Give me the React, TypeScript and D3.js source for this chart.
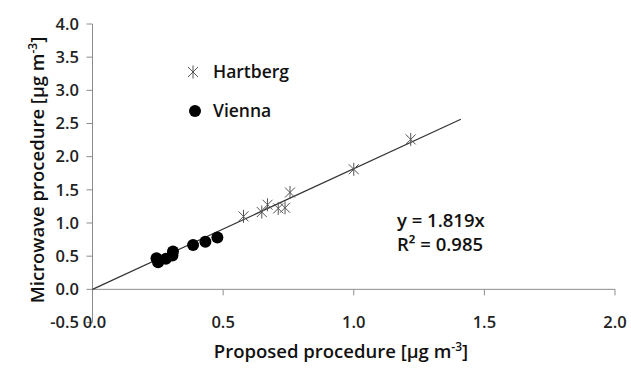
import React, { useEffect, useRef } from 'react';
import * as d3 from 'd3';

// data
const hartbergX = [0.578, 0.648, 0.67, 0.711, 0.737, 0.756, 1.0, 1.218];
const hartbergY = [1.10, 1.165, 1.275, 1.22, 1.23, 1.46, 1.81, 2.26];
const viennaX = [0.245, 0.251, 0.281, 0.306, 0.308, 0.385, 0.432, 0.478];
const viennaY = [0.47, 0.41, 0.46, 0.51, 0.57, 0.67, 0.716, 0.78];
const slope = 1.819;
const rSquared = 0.985;
const fitEnd = 1.41;
const xTicks = [0.0, 0.5, 1.0, 1.5, 2.0];
const yTicks = [-0.5, 0.0, 0.5, 1.0, 1.5, 2.0, 2.5, 3.0, 3.5, 4.0];

const FONT = "'Open Sans', 'Noto Sans', sans-serif";
const starPath = 'M-5,-5L5,5M-5,5L5,-5M0,-6.5L0,6.5';

function App() {
    const ref = useRef<SVGSVGElement>(null);

    useEffect(() => {
        const svg = d3.select(ref.current);
        svg.selectAll('*').remove();

        const x = d3.scaleLinear().domain([0, 2]).range([92.5, 615]);
        const y = d3.scaleLinear().domain([-0.5, 4]).range([322.5, 24]);

        // y axis
        svg.append('line')
            .attr('x1', x(0)).attr('x2', x(0))
            .attr('y1', y(4)).attr('y2', y(-0.5))
            .attr('stroke', '#8c8c8c');
        yTicks.forEach((t) => {
            svg.append('line')
                .attr('x1', x(0) - 6).attr('x2', x(0))
                .attr('y1', y(t)).attr('y2', y(t))
                .attr('stroke', '#8c8c8c');
            svg.append('text')
                .attr('x', 79).attr('y', y(t))
                .attr('dy', '0.35em')
                .attr('text-anchor', 'end')
                .attr('font-size', 16.5).attr('font-weight', 600)
                .attr('font-family', FONT).attr('fill', '#222')
                .text(t.toFixed(1));
        });

        // x axis at y = 0
        svg.append('line')
            .attr('x1', x(0)).attr('x2', x(2))
            .attr('y1', y(0)).attr('y2', y(0))
            .attr('stroke', '#8c8c8c');
        xTicks.forEach((t) => {
            svg.append('line')
                .attr('x1', x(t)).attr('x2', x(t))
                .attr('y1', y(0)).attr('y2', y(0) + 6)
                .attr('stroke', '#8c8c8c');
            svg.append('text')
                .attr('x', x(t) + (t === 0 ? 2 : 0)).attr('y', y(-0.5))
                .attr('dy', '0.35em')
                .attr('text-anchor', 'middle')
                .attr('font-size', 16.5).attr('font-weight', 600)
                .attr('font-family', FONT).attr('fill', '#222')
                .text(t.toFixed(1));
        });

        // trend line
        svg.append('line')
            .attr('x1', x(0)).attr('y1', y(0))
            .attr('x2', x(fitEnd)).attr('y2', y(slope * fitEnd))
            .attr('stroke', '#333').attr('stroke-width', 1.2);

        // Vienna
        svg.selectAll('.vienna')
            .data(viennaX.map((v, i) => [v, viennaY[i]]))
            .enter().append('circle')
            .attr('class', 'vienna')
            .attr('cx', (d) => x(d[0]))
            .attr('cy', (d) => y(d[1]))
            .attr('r', 6)
            .attr('fill', '#000');

        // Hartberg
        svg.selectAll('.hartberg')
            .data(hartbergX.map((v, i) => [v, hartbergY[i]]))
            .enter().append('path')
            .attr('class', 'hartberg')
            .attr('d', starPath)
            .attr('transform', (d) => 'translate(' + x(d[0]) + ',' + y(d[1]) + ')')
            .attr('fill', 'none')
            .attr('stroke', '#555')
            .attr('stroke-width', 1);

        // legend
        svg.append('path')
            .attr('d', starPath)
            .attr('transform', 'translate(193,72)')
            .attr('fill', 'none').attr('stroke', '#555');
        svg.append('circle')
            .attr('cx', 195).attr('cy', 111).attr('r', 6).attr('fill', '#000');
        [['Hartberg', 72], ['Vienna', 111]].forEach(([name, ly]) => {
            svg.append('text')
                .attr('x', 213).attr('y', ly as number)
                .attr('dy', '0.35em')
                .attr('font-size', 17.5).attr('font-weight', 600)
                .attr('font-family', FONT).attr('fill', '#111')
                .text(name as string);
        });

        // equation
        const eq = svg.append('g')
            .attr('font-size', 18.5).attr('font-weight', 600)
            .attr('font-family', FONT).attr('fill', '#111');
        eq.append('text').attr('x', 397).attr('y', 221).attr('dy', '0.35em')
            .text('y = ' + slope + 'x');
        eq.append('text').attr('x', 397).attr('y', 245).attr('dy', '0.35em')
            .text('R² = ' + rSquared);

        // axis titles
        const xt = svg.append('text')
            .attr('x', 341).attr('y', 358)
            .attr('text-anchor', 'middle')
            .attr('font-size', 18.5).attr('font-weight', 600)
            .attr('font-family', FONT).attr('fill', '#111');
        xt.append('tspan').text('Proposed procedure [µg m');
        xt.append('tspan').attr('font-size', 12).attr('dy', -7).text('-3');
        xt.append('tspan').attr('dy', 7).text(']');

        const yt = svg.append('text')
            .attr('transform', 'translate(44,170) rotate(-90)')
            .attr('text-anchor', 'middle')
            .attr('font-size', 18.5).attr('font-weight', 600)
            .attr('font-family', FONT).attr('fill', '#111');
        yt.append('tspan').text('Microwave procedure [µg m');
        yt.append('tspan').attr('font-size', 12).attr('dy', -7).text('-3');
        yt.append('tspan').attr('dy', 7).text(']');
    }, []);

    return (
        <svg ref={ref} width={631} height={374}
            style={{ position: 'absolute', left: 0, top: 0, background: '#fff' }}></svg>
    );
}

export default App;
